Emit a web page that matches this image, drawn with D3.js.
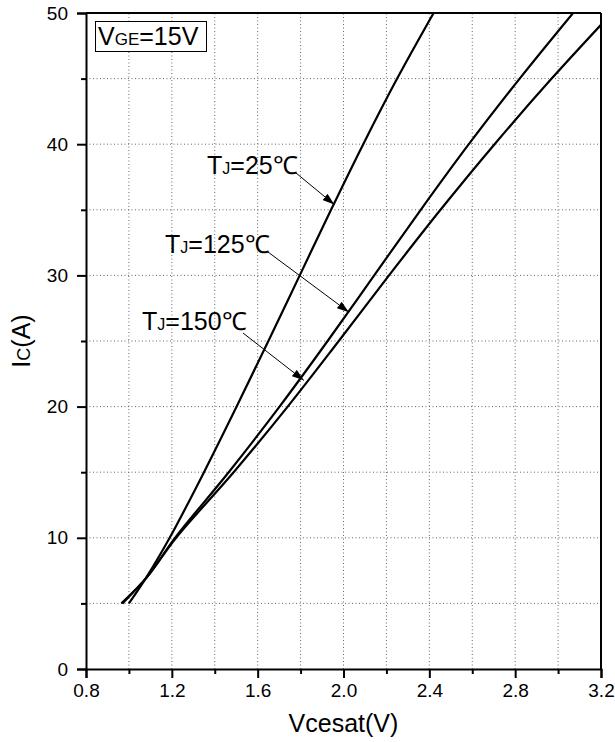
<!DOCTYPE html>
<html><head><meta charset="utf-8">
<script src="https://cdn.jsdelivr.net/npm/d3@7"></script>
<style>body{margin:0;background:#fff}</style>
</head><body><svg id="chart" width="615" height="742"></svg>
<script>
// ---- data ----
const ic25  = [5, 7, 10, 15, 20, 25, 30, 35, 40, 45, 50];
const vce25 = [1.00, 1.082, 1.19, 1.35, 1.502, 1.65, 1.796, 1.942, 2.092, 2.25, 2.42];
const ic125  = [5, 7, 10, 15, 20, 25, 30, 35, 40, 45, 50];
const vce125 = [0.965, 1.084, 1.215, 1.465, 1.702, 1.926, 2.143, 2.36, 2.584, 2.821, 3.07];
const ic150  = [5, 7, 10, 15, 20, 25, 30, 35, 40, 45, 49.1];
const vce150 = [0.97, 1.084, 1.22, 1.488, 1.74, 1.978, 2.212, 2.452, 2.704, 2.97, 3.2];
const xTickValues = [0.8, 1.2, 1.6, 2.0, 2.4, 2.8, 3.2];
const xMinorValues = [1.0, 1.4, 1.8, 2.2, 2.6, 3.0];
const yTickValues = [0, 10, 20, 30, 40, 50];
const yMinorValues = [5, 15, 25, 35, 45];
const seriesNames = ["25℃", "125℃", "150℃"];
const arrowTipV = [1.957, 2.025, 1.815];
const arrowTipI = [35.4, 27.2, 22.0];

// ---- layout ----
const W = 615, H = 742;
const m = {left: 86, right: 14, top: 13, bottom: 73};
const FONT = "'Liberation Sans', Arial, sans-serif";
const svg = d3.select("#chart");
const x = d3.scaleLinear().domain([0.8, 3.2]).range([m.left, W - m.right]);
const y = d3.scaleLinear().domain([0, 50]).range([H - m.bottom, m.top]);

// grid
const grid = svg.append("g").attr("stroke", "#666").attr("stroke-width", 1).attr("stroke-dasharray", "1,2.5");
d3.range(1.0, 3.19, 0.2).forEach(v => {
  grid.append("line").attr("x1", x(v)).attr("x2", x(v)).attr("y1", y(0)).attr("y2", y(50));
});
d3.range(5, 49, 5).forEach(v => {
  grid.append("line").attr("x1", x(0.8)).attr("x2", x(3.2)).attr("y1", y(v)).attr("y2", y(v));
});

// curves
svg.append("clipPath").attr("id", "clip").append("rect")
  .attr("x", m.left).attr("y", m.top).attr("width", W - m.left - m.right).attr("height", H - m.top - m.bottom);
const line = d3.line().x(d => x(d[0])).y(d => y(d[1])).curve(d3.curveCatmullRom.alpha(0.5));
[[vce25, ic25], [vce125, ic125], [vce150, ic150]].forEach(([vs, is]) => {
  svg.append("path").attr("clip-path", "url(#clip)")
    .datum(vs.map((v, i) => [v, is[i]]))
    .attr("d", line).attr("fill", "none").attr("stroke", "#000").attr("stroke-width", 2.2);
});

// axes
const xAxis = svg.append("g").attr("transform", `translate(0,${y(0)})`)
  .call(d3.axisBottom(x).tickValues(xTickValues).tickFormat(d3.format(".1f")).tickSize(9).tickPadding(6));
const xMinor = svg.append("g").attr("transform", `translate(0,${y(0)})`)
  .call(d3.axisBottom(x).tickValues(xMinorValues).tickFormat("").tickSize(5));
const yAxis = svg.append("g").attr("transform", `translate(${x(0.8)},0)`)
  .call(d3.axisLeft(y).tickValues(yTickValues).tickSize(9).tickPadding(9));
const yMinor = svg.append("g").attr("transform", `translate(${x(0.8)},0)`)
  .call(d3.axisLeft(y).tickValues(yMinorValues).tickFormat("").tickSize(5));
[xAxis, xMinor, yAxis, yMinor].forEach(g => {
  g.selectAll("path.domain").attr("stroke", "#000").attr("stroke-width", 2);
  g.selectAll(".tick line").attr("stroke", "#000").attr("stroke-width", 2);
  g.selectAll("text").attr("font-family", FONT).attr("font-size", 19).attr("fill", "#000");
});
xMinor.select("path.domain").remove();
yMinor.select("path.domain").remove();
// top & right frame
svg.append("line").attr("x1", x(0.8)).attr("x2", x(3.2)).attr("y1", y(50)).attr("y2", y(50)).attr("stroke", "#000").attr("stroke-width", 2);
svg.append("line").attr("x1", x(3.2)).attr("x2", x(3.2)).attr("y1", y(50)).attr("y2", y(0)).attr("stroke", "#000").attr("stroke-width", 2);

// axis titles
svg.append("text").attr("x", (x(0.8) + x(3.2)) / 2).attr("y", 732).attr("text-anchor", "middle")
  .attr("font-family", FONT).attr("font-size", 25).text("Vcesat(V)");
const yt = svg.append("text").attr("transform", `translate(30,${(y(0) + y(50)) / 2}) rotate(-90)`)
  .attr("text-anchor", "middle").attr("font-family", FONT).attr("font-size", 25);
yt.append("tspan").text("I");
yt.append("tspan").attr("font-size", 18).text("C");
yt.append("tspan").text("(A)");

// VGE box
svg.append("rect").attr("x", 95.5).attr("y", 21.5).attr("width", 111).attr("height", 30)
  .attr("fill", "#fff").attr("stroke", "#000").attr("stroke-width", 1);
const vt = svg.append("text").attr("x", 98).attr("y", 45).attr("font-family", FONT).attr("font-size", 25);
vt.append("tspan").text("V");
vt.append("tspan").attr("font-size", 17).text("GE");
vt.append("tspan").text("=15V");

// annotations
const defs = svg.append("defs");
defs.append("marker").attr("id", "arr").attr("viewBox", "0 0 12 8").attr("refX", 12).attr("refY", 4)
  .attr("markerWidth", 12).attr("markerHeight", 8).attr("markerUnits", "userSpaceOnUse").attr("orient", "auto")
  .append("path").attr("d", "M0,0 L12,4 L0,8 Z").attr("fill", "#000");
const labelPos = [[207, 174], [165, 253], [142, 330]];
const arrowStart = [[296, 173], [268, 252], [243, 333]];
seriesNames.forEach((name, i) => {
  const t = svg.append("text").attr("x", labelPos[i][0]).attr("y", labelPos[i][1])
    .attr("font-family", FONT).attr("font-size", 25);
  t.append("tspan").text("T");
  t.append("tspan").attr("font-size", 16).text("J");
  t.append("tspan").text("=" + name);
  svg.append("line").attr("x1", arrowStart[i][0]).attr("y1", arrowStart[i][1])
    .attr("x2", x(arrowTipV[i])).attr("y2", y(arrowTipI[i]))
    .attr("stroke", "#000").attr("stroke-width", 1).attr("marker-end", "url(#arr)");
});
</script></body></html>
